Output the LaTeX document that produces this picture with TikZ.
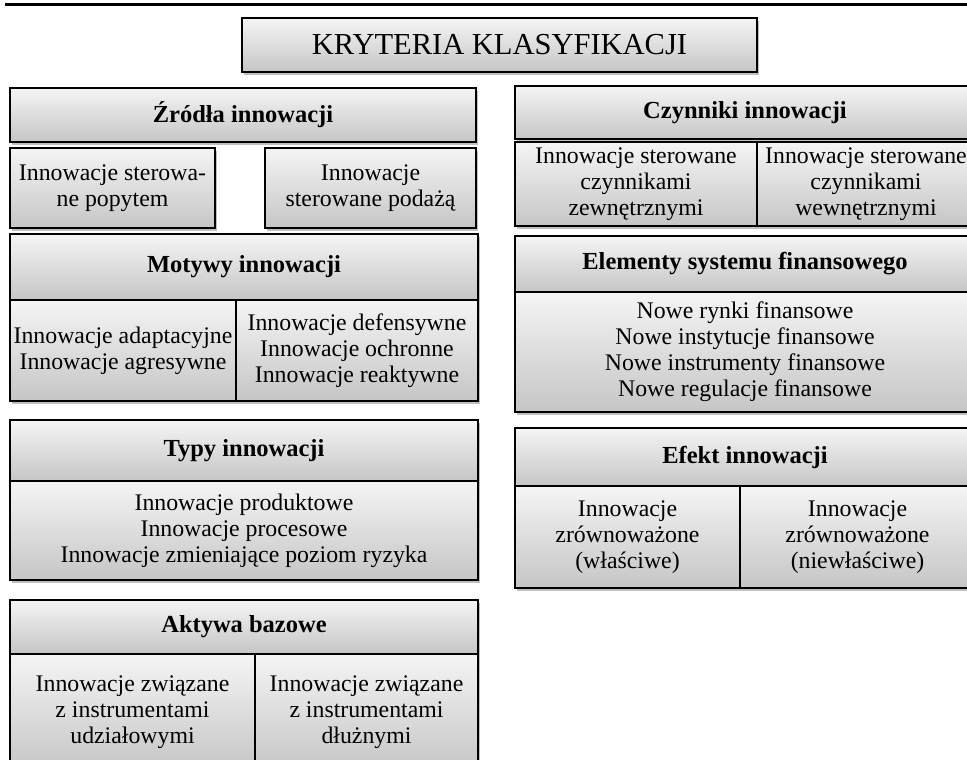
\documentclass[tikz,border=0pt]{standalone}
\usepackage{fontspec}
\setmainfont{Liberation Serif}
\usetikzlibrary{positioning,shadows}

\begin{document}
\begin{tikzpicture}[x=1pt, y=-1pt,
    boxsize/.style 2 args={minimum width=#1pt, minimum height=#2pt},
    hdr/.style={draw=black, line width=1.4pt, top color=gray!8, bottom color=gray!45, inner sep=0pt, outer sep=0pt, align=center,
      drop shadow={shadow xshift=2pt, shadow yshift=-3pt, fill=black, opacity=0.25},
      font=\fontsize{24.5}{27}\selectfont\bfseries},
    sub/.style={hdr, font=\fontsize{23.8}{26}\selectfont},
    titlebox/.style={hdr, font=\fontsize{30.5}{34}\selectfont}
]
\path[use as bounding box, clip] (0,0) rectangle (967,760);
\draw[line width=3pt] (5,5) -- (975,5);
% Title
\node[titlebox, boxsize={515}{54}, anchor=north west] (title) at (242,18) {KRYTERIA KLASYFIKACJI};
% Left column
\node[hdr, boxsize={466}{54}, anchor=north west] (zrodla) at (10,88) {Źródła innowacji};
\node[sub, boxsize={205}{80}, below right=6pt and 0pt of zrodla.south west] (zr1) {Innowacje sterowa-\\ne popytem};
\node[sub, boxsize={211}{80}, right=50pt of zr1] (zr2) {Innowacje\\sterowane podażą};
\node[hdr, boxsize={468}{66}, anchor=north west] (motywy) at (10,234) {Motywy innowacji};
\node[sub, boxsize={226}{101}, below right=0pt and 0pt of motywy.south west] (mot1) {Innowacje adaptacyjne\\Innowacje agresywne};
\node[sub, boxsize={242}{101}, right=0pt of mot1] (mot2) {Innowacje defensywne\\Innowacje ochronne\\Innowacje reaktywne};
\node[hdr, boxsize={468}{61}, anchor=north west] (typy) at (10,420) {Typy innowacji};
\node[sub, boxsize={468}{99}, below=0pt of typy] (typy1) {Innowacje produktowe\\Innowacje procesowe\\Innowacje zmieniające poziom ryzyka};
\node[hdr, boxsize={468}{54}, anchor=north west] (aktywa) at (10,600) {Aktywa bazowe};
\node[sub, boxsize={245}{116}, below right=0pt and 0pt of aktywa.south west] (ak1) {Innowacje związane\\z instrumentami\\udziałowymi};
\node[sub, boxsize={223}{116}, right=0pt of ak1] (ak2) {Innowacje związane\\z instrumentami\\dłużnymi};
% Right column
\node[hdr, boxsize={460}{53}, anchor=north west] (czynniki) at (515,86) {Czynniki innowacji};
\node[sub, boxsize={242}{84}, below right=3pt and 0pt of czynniki.south west] (cz1) {Innowacje sterowane\\czynnikami\\zewnętrznymi};
\node[sub, boxsize={218}{84}, right=0pt of cz1] (cz2) {Innowacje sterowane\\czynnikami\\wewnętrznymi};
\node[hdr, boxsize={460}{56}, anchor=north west] (elementy) at (515,236) {Elementy systemu finansowego};
\node[sub, boxsize={460}{120}, below=0pt of elementy] (elem1) {Nowe rynki finansowe\\Nowe instytucje finansowe\\Nowe instrumenty finansowe\\Nowe regulacje finansowe};
\node[hdr, boxsize={460}{58}, anchor=north west] (efekt) at (515,428) {Efekt innowacji};
\node[sub, boxsize={225}{102}, below right=0pt and 0pt of efekt.south west] (ef1) {Innowacje\\zrównoważone\\(właściwe)};
\node[sub, boxsize={235}{102}, right=0pt of ef1] (ef2) {Innowacje\\zrównoważone\\(niewłaściwe)};
\end{tikzpicture}
\end{document}
